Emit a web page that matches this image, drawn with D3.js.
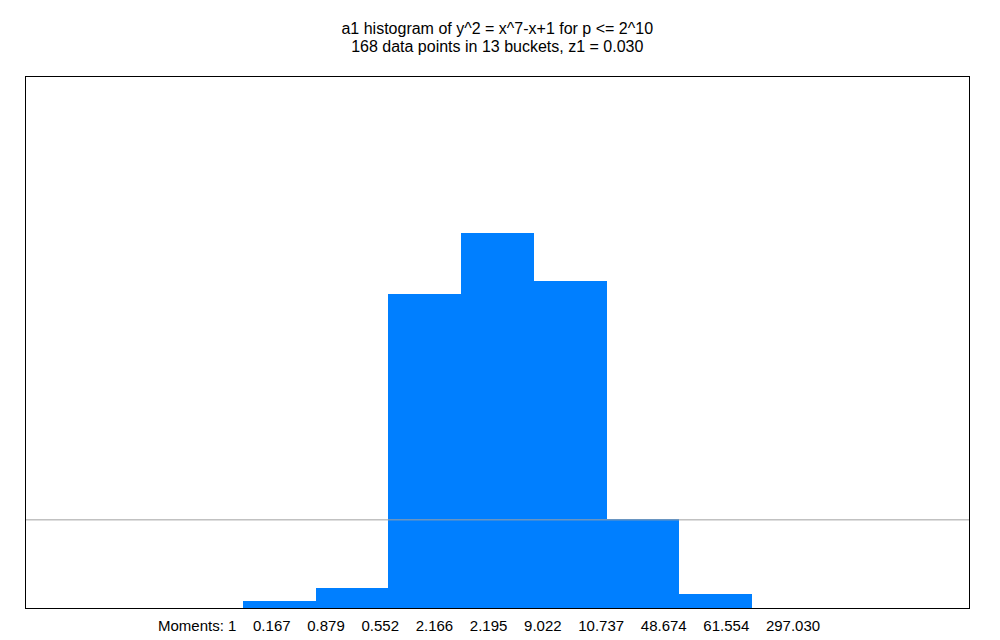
<!DOCTYPE html>
<html><head><meta charset="utf-8">
<script src="https://cdn.jsdelivr.net/npm/d3@7"></script>
<style>body{margin:0;background:#fff}svg{display:block}text{font-family:"Liberation Sans",Arial,sans-serif;font-size:15px;fill:#000}text.t{font-size:16px}</style>
</head><body><svg id="c" width="1000" height="640"></svg>
<script>
const titleLines = ["a1 histogram of y^2 = x^7-x+1 for p <= 2^10", "168 data points in 13 buckets, z1 = 0.030"];
const buckets = d3.range(13);
const counts = [0, 0, 0, 1, 3, 46, 55, 48, 13, 2, 0, 0, 0];
const moments = ["1", "0.167", "0.879", "0.552", "2.166", "2.195", "9.022", "10.737", "48.674", "61.554", "297.030"];
const yMax = 78;

const svg = d3.select("#c");
const m = {l: 25, r: 30.5, t: 76, b: 32};
const W = 1000, H = 640;
const x = d3.scaleBand().domain(buckets).range([m.l, W - m.r]).padding(0);
const y = d3.scaleLinear().domain([0, yMax]).range([H - m.b, m.t]);
const total = d3.sum(counts);

svg.append("g").attr("shape-rendering", "crispEdges").selectAll("rect").data(counts).join("rect")
  .attr("x", (d, i) => x(i)).attr("width", x.bandwidth() + 0.6)
  .attr("y", d => y(d)).attr("height", d => y(0) - y(d))
  .attr("fill", "#007fff");

svg.append("line").attr("x1", m.l).attr("x2", W - m.r)
  .attr("y1", y(total / buckets.length)).attr("y2", y(total / buckets.length))
  .attr("stroke", "#a0a0a0").attr("stroke-width", 1);

svg.append("rect").attr("x", m.l + 0.5).attr("y", m.t + 0.5)
  .attr("width", W - m.r - m.l - 0.5).attr("height", H - m.b - m.t)
  .attr("fill", "none").attr("stroke", "#000").attr("stroke-width", 1);

svg.selectAll("text.t").data(titleLines).join("text").attr("class", "t")
  .attr("x", (m.l + W - m.r) / 2).attr("y", (d, i) => 34 + i * 18)
  .attr("text-anchor", "middle").text(d => d);

svg.append("text").attr("x", 158).attr("y", 631).attr("xml:space", "preserve")
  .text("Moments: " + moments.join("    "));
</script></body></html>
